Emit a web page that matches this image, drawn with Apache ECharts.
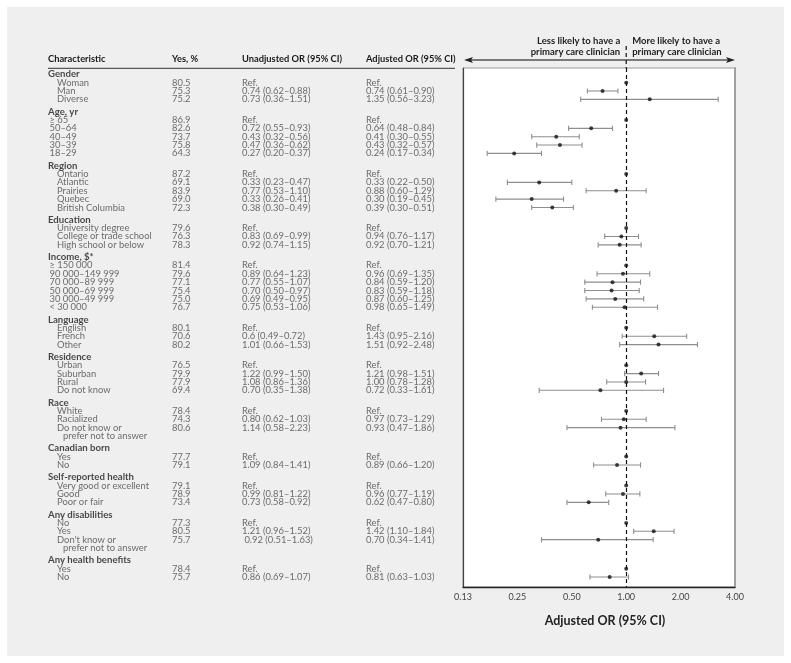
<!DOCTYPE html>
<html>
<head>
<meta charset="utf-8">
<script src="https://cdn.jsdelivr.net/npm/echarts@6/dist/echarts.min.js"></script>
<style>
html,body{margin:0;padding:0;background:#fff;}
#chart{width:791px;height:663px;}
</style>
</head>
<body>
<div id="chart"></div>
<script>
// ---------------- DATA ----------------
const groups = ['Gender','Age, yr','Region','Education','Income, $*','Language','Residence','Race','Canadian born','Self-reported health','Any disabilities','Any health benefits'];
const groupSizes = [3,5,5,3,6,3,4,3,2,3,3,2];
const itemLabels = [
  'Woman','Man','Diverse',
  '\u2265 65','50\u201364','40\u201349','30\u201339','18\u201329',
  'Ontario','Atlantic','Prairies','Quebec','British Columbia',
  'University degree','College or trade school','High school or below',
  '\u2265 150 000','90 000\u2013149 999','70 000\u201389 999','50 000\u201369 999','30 000\u201349 999','< 30 000',
  'English','French','Other',
  'Urban','Suburban','Rural','Do not know',
  'White','Racialized','Do not know or\nprefer not to answer',
  'Yes','No',
  'Very good or excellent','Good','Poor or fair',
  'No','Yes',"Don't know or\nprefer not to answer",
  'Yes','No'
];
const yesPct = [
  80.5,75.3,75.2,
  86.9,82.6,73.7,75.8,64.3,
  87.2,69.1,83.9,69.0,72.3,
  79.6,76.3,78.3,
  81.4,79.6,77.1,75.4,75.0,76.7,
  80.1,70.6,80.2,
  76.5,79.9,77.9,69.4,
  78.4,74.3,80.6,
  77.7,79.1,
  79.1,78.9,73.4,
  77.3,80.5,75.7,
  78.4,75.7
];
const unadjusted = [
  'Ref.','0.74 (0.62\u20130.88)','0.73 (0.36\u20131.51)',
  'Ref.','0.72 (0.55\u20130.93)','0.43 (0.32\u20130.56)','0.47 (0.36\u20130.62)','0.27 (0.20\u20130.37)',
  'Ref.','0.33 (0.23\u20130.47)','0.77 (0.53\u20131.10)','0.33 (0.26\u20130.41)','0.38 (0.30\u20130.49)',
  'Ref.','0.83 (0.69\u20130.99)','0.92 (0.74\u20131.15)',
  'Ref.','0.89 (0.64\u20131.23)','0.77 (0.55\u20131.07)','0.70 (0.50\u20130.97)','0.69 (0.49\u20130.95)','0.75 (0.53\u20131.06)',
  'Ref.','0.6 (0.49\u20130.72)','1.01 (0.66\u20131.53)',
  'Ref.','1.22 (0.99\u20131.50)','1.08 (0.86\u20131.36)','0.70 (0.35\u20131.38)',
  'Ref.','0.80 (0.62\u20131.03)','1.14 (0.58\u20132.23)',
  'Ref.','1.09 (0.84\u20131.41)',
  'Ref.','0.99 (0.81\u20131.22)','0.73 (0.58\u20130.92)',
  'Ref.','1.21 (0.96\u20131.52)',' 0.92 (0.51\u20131.63)',
  'Ref.','0.86 (0.69\u20131.07)'
];
// adjusted OR, null = reference category
const adjOR = [
  null,0.74,1.35,
  null,0.64,0.41,0.43,0.24,
  null,0.33,0.88,0.30,0.39,
  null,0.94,0.92,
  null,0.96,0.84,0.83,0.87,0.98,
  null,1.43,1.51,
  null,1.21,1.00,0.72,
  null,0.97,0.93,
  null,0.89,
  null,0.96,0.62,
  null,1.42,0.70,
  null,0.81
];
const adjLo = [
  null,0.61,0.56,
  null,0.48,0.30,0.32,0.17,
  null,0.22,0.60,0.19,0.30,
  null,0.76,0.70,
  null,0.69,0.59,0.59,0.60,0.65,
  null,0.95,0.92,
  null,0.98,0.78,0.33,
  null,0.73,0.47,
  null,0.66,
  null,0.77,0.47,
  null,1.10,0.34,
  null,0.63
];
const adjHi = [
  null,0.90,3.23,
  null,0.84,0.55,0.57,0.34,
  null,0.50,1.29,0.45,0.51,
  null,1.17,1.21,
  null,1.35,1.20,1.18,1.25,1.49,
  null,2.16,2.48,
  null,1.51,1.28,1.61,
  null,1.29,1.86,
  null,1.20,
  null,1.19,0.80,
  null,1.84,1.41,
  null,1.03
];
const xTicks = [0.125,0.25,0.5,1,2,4];
const headers = ['Characteristic','Yes, %','Unadjusted OR (95% CI)','Adjusted OR (95% CI)'];
const noteLeft = 'Less likely to have a\nprimary care clinician';
const noteRight = 'More likely to have a\nprimary care clinician';
const axisTitle = 'Adjusted OR (95% CI)';

// ---------------- LAYOUT ----------------
const FONT = 'Lato, "Noto Sans", sans-serif';
const rowPx = 8.355, rowOrigin = 74.3, groupGap = 0.47;
const gridTop = 68, gridBottom = 587;
const yMin = (gridTop - rowOrigin) / rowPx, yMax = (gridBottom - rowOrigin) / rowPx;
const tableLeft = 48, tableRight = 455;
const colX = {head:0, item:9, itemFlat:1.5, cont:15, yes:124, unadj:194, adj:318};
const flatGroups = {'Age, yr':true,'Income, $*':true};

// build rows
const tableData = [], pointData = [], barData = [];
let pos = 0, idx = 0;
groups.forEach((g, gi) => {
  tableData.push({name:g, value:[colX.head, pos], label:{fontWeight:'bold', color:'#1a1a1a', fontSize:9.6}});
  pos += 1;
  for (let j = 0; j < groupSizes[gi]; j++, idx++) {
    const parts = itemLabels[idx].split('\n');
    const ix = flatGroups[g] ? colX.itemFlat : colX.item;
    tableData.push({name:parts[0], value:[ix, pos]});
    tableData.push({name:yesPct[idx].toFixed(1), value:[colX.yes, pos]});
    tableData.push({name:unadjusted[idx], value:[colX.unadj, pos]});
    const adjTxt = adjOR[idx] == null ? 'Ref.' :
      adjOR[idx].toFixed(2) + ' (' + adjLo[idx].toFixed(2) + '\u2013' + adjHi[idx].toFixed(2) + ')';
    tableData.push({name:adjTxt, value:[colX.adj, pos]});
    if (adjOR[idx] == null) {
      pointData.push([1, pos]);
    } else {
      pointData.push([adjOR[idx], pos]);
      barData.push([adjLo[idx], adjHi[idx], pos]);
    }
    pos += 1;
    for (let c = 1; c < parts.length; c++) {
      tableData.push({name:parts[c], value:[colX.cont, pos]});
      pos += 1;
    }
  }
  pos += groupGap;
});

const chart = echarts.init(document.getElementById('chart'), null, {renderer:'canvas'});

const option = {
  animation:false,
  backgroundColor:'#ffffff',
  textStyle:{fontFamily:FONT},
  grid:[
    {left:463, width:272, top:gridTop, height:gridBottom-gridTop, show:true, backgroundColor:'#ffffff', borderColor:'#9a9a9a', borderWidth:1},
    {left:tableLeft, width:tableRight-tableLeft, top:gridTop, height:gridBottom-gridTop, show:false}
  ],
  xAxis:[
    {type:'log', logBase:2, min:0.125, max:4, gridIndex:0,
     splitNumber:5,
     axisLine:{show:true, onZero:false, lineStyle:{color:'#222', width:1.3}},
     axisTick:{show:false},
     splitLine:{show:false},
     axisLabel:{color:'#444', fontSize:9, margin:6, fontFamily:FONT,
       formatter:v => v.toFixed(2)},
     name:axisTitle, nameLocation:'middle', nameGap:27,
     nameTextStyle:{fontSize:12.5, fontWeight:'bold', color:'#222', fontFamily:FONT, padding:[0,0,0,12]}
    },
    {type:'value', min:0, max:tableRight-tableLeft, gridIndex:1, show:false}
  ],
  yAxis:[
    {type:'value', inverse:true, min:yMin, max:yMax, gridIndex:0,
     axisLine:{show:true, onZero:false, lineStyle:{color:'#444', width:1.2}},
     axisTick:{show:false}, axisLabel:{show:false}, splitLine:{show:false}},
    {type:'value', inverse:true, min:yMin, max:yMax, gridIndex:1, show:false},
    {type:'value', inverse:true, min:yMin, max:yMax, gridIndex:0, position:'right',
     axisLine:{show:true, onZero:false, lineStyle:{color:'#a0a0a0', width:2}},
     axisTick:{show:false}, axisLabel:{show:false}, splitLine:{show:false}}
  ],
  series:[
    {
      type:'scatter', xAxisIndex:1, yAxisIndex:1, symbolSize:0, silent:true,
      data:tableData,
      label:{show:true, position:'right', distance:0, formatter:p => p.name,
        color:'#4a4a4a', fontSize:9.4, fontFamily:FONT}
    },
    {
      type:'custom', xAxisIndex:0, yAxisIndex:0, silent:true,
      data:barData,
      renderItem:(params, api) => {
        const p1 = api.coord([api.value(0), api.value(2)]);
        const p2 = api.coord([api.value(1), api.value(2)]);
        const h = 2.6;
        const st = {stroke:'#8e8e8e', lineWidth:1.1};
        return {type:'group', children:[
          {type:'line', shape:{x1:p1[0], y1:p1[1], x2:p2[0], y2:p2[1]}, style:st},
          {type:'line', shape:{x1:p1[0], y1:p1[1]-h, x2:p1[0], y2:p1[1]+h}, style:st},
          {type:'line', shape:{x1:p2[0], y1:p2[1]-h, x2:p2[0], y2:p2[1]+h}, style:st}
        ]};
      }
    },
    {
      type:'scatter', xAxisIndex:0, yAxisIndex:0, silent:true,
      symbol:'circle', symbolSize:4, itemStyle:{color:'#111'}, z:5,
      data:pointData,
      markLine:{silent:true, symbol:'none', label:{show:false},
        lineStyle:{color:'#111', type:[4,3], width:1.2},
        data:[{xAxis:1}]}
    }
  ]
};
chart.setOption(option);

const xRef = chart.convertToPixel({xAxisIndex:0}, 1);
const hdrY = 59.3;
const hdrFont = 'bold 9.3px ' + FONT;
chart.setOption({
  graphic:[
    {type:'rect', z:-100, silent:true, shape:{x:7, y:7, width:777, height:649}, style:{fill:'#eeefee'}},
    {type:'text', x:tableLeft + colX.head, y:hdrY, style:{text:headers[0], font:hdrFont, fill:'#1a1a1a', verticalAlign:'middle'}},
    {type:'text', x:tableLeft + colX.yes, y:hdrY, style:{text:headers[1], font:hdrFont, fill:'#1a1a1a', verticalAlign:'middle'}},
    {type:'text', x:tableLeft + colX.unadj, y:hdrY, style:{text:headers[2], font:hdrFont, fill:'#1a1a1a', verticalAlign:'middle'}},
    {type:'text', x:tableLeft + colX.adj, y:hdrY, style:{text:headers[3], font:hdrFont, fill:'#1a1a1a', verticalAlign:'middle'}},
    {type:'line', shape:{x1:tableLeft, y1:68.3, x2:tableRight, y2:68.3}, style:{stroke:'#333', lineWidth:1}},
    // arrow
    {type:'line', shape:{x1:470, y1:60, x2:728, y2:60}, style:{stroke:'#7a7a7a', lineWidth:2}},
    {type:'polygon', shape:{points:[[464,60],[473,57],[471,60],[473,63]]}, style:{fill:'#222'}},
    {type:'polygon', shape:{points:[[735,60],[726,57],[728,60],[726,63]]}, style:{fill:'#222'}},
    {type:'line', shape:{x1:xRef, y1:46, x2:xRef, y2:gridTop}, style:{stroke:'#111', lineWidth:1.2, lineDash:[4,3]}},
    {type:'text', x:xRef - 6, y:35, style:{text:noteLeft, font:'bold 9.5px ' + FONT, fill:'#222', align:'right', lineHeight:11.6}},
    {type:'text', x:xRef + 6, y:35, style:{text:noteRight, font:'bold 9.5px ' + FONT, fill:'#222', align:'left', lineHeight:11.6}}
  ]
});
</script>
</body>
</html>
